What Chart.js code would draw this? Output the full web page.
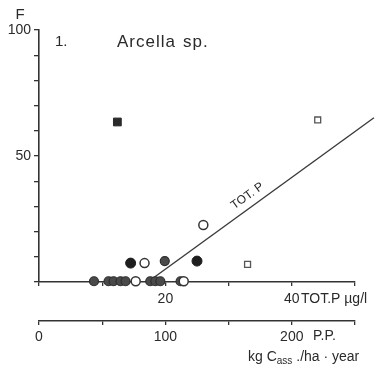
<!DOCTYPE html>
<html>
<head>
<meta charset="utf-8">
<script src="https://cdn.jsdelivr.net/npm/chart.js@4.4.1/dist/chart.umd.min.js"></script>
<style>
html, body { margin: 0; padding: 0; background: #fff; }
</style>
</head>
<body>
<canvas id="grafico" width="375" height="374"></canvas>
<script>
// Etiquetas que se muestran en cada eje
const etiquetasF = [50, 100];
const etiquetasTotP = [20, 40];
const etiquetasPP = [0, 100, 200];

// Puntos: x = TOT.P (µg/l), y = F
const circulosLlenosX = [14.5, 25.0];
const circulosLlenosY = [7.5, 8.3];
const circulosAbiertosX = [16.7, 26.0, 15.3, 22.9];
const circulosAbiertosY = [7.5, 22.6, 0.3, 0.3];
const circulosGrisX = [8.7, 11.0, 11.8, 12.9, 13.7, 17.6, 18.4, 19.2, 22.4, 19.9];
const circulosGrisY = [0.3, 0.3, 0.3, 0.3, 0.3, 0.3, 0.3, 0.3, 0.3, 8.3];
const cuadradosLlenosX = [12.4];
const cuadradosLlenosY = [63.5];
const cuadradosAbiertosX = [44.1, 33.0];
const cuadradosAbiertosY = [64.3, 7.0];

// Recta TOT.P
const rectaX = [17.2, 53.0];
const rectaY = [0, 65.2];

const fuente = "'Liberation Sans', sans-serif";
const tinta = '#2a2a2a';

function puntos(xs, ys) {
    return xs.map((x, i) => ({ x: x, y: ys[i] }));
}

// Textos sueltos del dibujo original
const textosExtra = {
    id: 'textosExtra',
    afterDraw(chart) {
        const { ctx, scales } = chart;
        ctx.save();
        ctx.fillStyle = tinta;
        ctx.textBaseline = 'middle';

        ctx.font = '15px ' + fuente;
        ctx.textAlign = 'center';
        ctx.fillText('F', 20, 15);
        ctx.textAlign = 'left';
        ctx.fillText('1.', 55, 42);
        ctx.font = '17px ' + fuente;
        ctx.letterSpacing = '1px';
        ctx.fillText('Arcella', 117, 42);
        ctx.fillText('sp.', 183, 42);
        ctx.letterSpacing = '0px';

        // unidad del eje TOT.P al lado del 40
        ctx.font = '14px ' + fuente;
        ctx.fillText('TOT.P µg/l', 301, 299);
        ctx.fillText('P.P.', 313, 336);

        // kg C_ass / ha · year
        let xx = 248;
        ctx.fillText('kg C', xx, 357);
        xx += ctx.measureText('kg C').width;
        ctx.font = '10px ' + fuente;
        ctx.fillText('ass', xx, 361);
        xx += ctx.measureText('ass').width;
        ctx.font = '14px ' + fuente;
        ctx.fillText(' ./ha · year', xx, 357);

        // rótulo sobre la recta
        const xs = scales.x, ys = scales.y;
        const v = 34;
        const px = xs.getPixelForValue(v);
        const py = ys.getPixelForValue(rectaY[1] * (v - rectaX[0]) / (rectaX[1] - rectaX[0]));
        const ang = Math.atan2(ys.getPixelForValue(rectaY[1]) - ys.getPixelForValue(rectaY[0]),
                               xs.getPixelForValue(rectaX[1]) - xs.getPixelForValue(rectaX[0]));
        ctx.translate(px + Math.sin(ang) * 11, py - Math.cos(ang) * 11);
        ctx.rotate(ang);
        ctx.textAlign = 'center';
        ctx.font = '12px ' + fuente;
        ctx.fillText('TOT. P', 0, 0);
        ctx.restore();
    }
};

const ctx = document.getElementById('grafico').getContext('2d');

new Chart(ctx, {
    type: 'scatter',
    data: {
        datasets: [
            {
                label: 'TOT.P',
                data: puntos(rectaX, rectaY),
                showLine: true,
                borderColor: '#3a3a3a',
                borderWidth: 1.4,
                pointRadius: 0,
                clip: false,
                order: 5
            },
            {
                label: 'gris',
                data: puntos(circulosGrisX, circulosGrisY),
                pointStyle: 'circle',
                pointRadius: 4.5,
                backgroundColor: '#4a4a4a',
                borderColor: '#2e2e2e',
                borderWidth: 1.2,
                clip: false,
                order: 4
            },
            {
                label: 'abiertos',
                data: puntos(circulosAbiertosX, circulosAbiertosY),
                pointStyle: 'circle',
                pointRadius: 4.5,
                backgroundColor: '#fff',
                borderColor: '#333',
                borderWidth: 1.5,
                clip: false,
                order: 3
            },
            {
                label: 'llenos',
                data: puntos(circulosLlenosX, circulosLlenosY),
                pointStyle: 'circle',
                pointRadius: 5,
                backgroundColor: '#1e1e1e',
                borderColor: '#1e1e1e',
                borderWidth: 1,
                clip: false,
                order: 2
            },
            {
                label: 'cuadrado lleno',
                data: puntos(cuadradosLlenosX, cuadradosLlenosY),
                pointStyle: 'rect',
                pointRadius: 5.5,
                backgroundColor: '#2a2a2a',
                borderColor: '#2a2a2a',
                borderWidth: 1,
                order: 1
            },
            {
                label: 'cuadrado abierto',
                data: puntos(cuadradosAbiertosX, cuadradosAbiertosY),
                pointStyle: 'rect',
                pointRadius: 4.2,
                backgroundColor: '#fff',
                borderColor: '#555',
                borderWidth: 1.3,
                order: 1
            }
        ]
    },
    options: {
        responsive: false,
        animation: false,
        layout: { padding: { top: 30, right: 20, bottom: 23, left: 0 } },
        plugins: {
            legend: { display: false },
            tooltip: { enabled: false }
        },
        scales: {
            y: {
                type: 'linear',
                position: 'left',
                min: 0,
                max: 100,
                afterFit: (scale) => { scale.width = 39; },
                ticks: {
                    stepSize: 10,
                    padding: 3,
                    color: tinta,
                    font: { family: fuente, size: 14 },
                    // '' oculta el número pero deja la marca
                    callback: (v) => etiquetasF.includes(v) ? String(v) : ''
                },
                grid: { drawOnChartArea: false, tickLength: 5, color: '#333', lineWidth: 1.3 },
                border: { color: '#333', width: 1.6 }
            },
            x: {
                type: 'linear',
                position: 'bottom',
                weight: 0,
                min: 0,
                max: 50,
                afterFit: (scale) => { scale.height = 39; },
                ticks: {
                    stepSize: 10,
                    autoSkip: false,
                    maxRotation: 0,
                    padding: 5,
                    color: tinta,
                    font: { family: fuente, size: 14 },
                    callback: (v) => etiquetasTotP.includes(v) ? String(v) : ''
                },
                grid: { drawOnChartArea: false, tickLength: 4, color: '#333', lineWidth: 1.3 },
                border: { color: '#333', width: 1.6 }
            },
            x2: {
                type: 'linear',
                position: 'bottom',
                weight: 1,
                min: 0,
                max: 250,
                afterFit: (scale) => { scale.height = 30; },
                ticks: {
                    stepSize: 50,
                    autoSkip: false,
                    maxRotation: 0,
                    padding: 4,
                    color: tinta,
                    font: { family: fuente, size: 14 },
                    callback: (v) => etiquetasPP.includes(v) ? String(v) : ''
                },
                grid: { drawOnChartArea: false, tickLength: 4, color: '#333', lineWidth: 1.3 },
                border: { color: '#333', width: 1.6 }
            }
        }
    },
    plugins: [textosExtra]
});
</script>
</body>
</html>
